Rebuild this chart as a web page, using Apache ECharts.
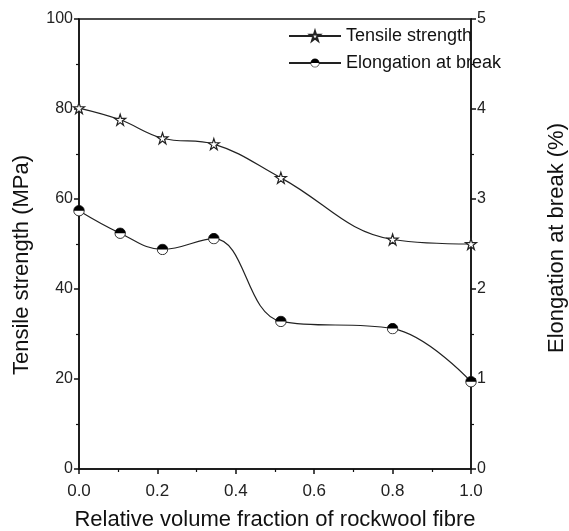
<!DOCTYPE html>
<html><head><meta charset="utf-8">
<script src="https://cdn.jsdelivr.net/npm/echarts@6/dist/echarts.min.js"></script>
<style>html,body{margin:0;padding:0;background:#fff}#c{width:569px;height:531px}</style>
</head><body><div id="c"></div>
<script>
const xValues = [0.0, 0.105, 0.213, 0.344, 0.515, 0.80, 1.0];
const tensileStrength = [80.2, 77.6, 73.5, 72.2, 64.7, 51.0, 50.0];
const elongationAtBreak = [2.87, 2.62, 2.44, 2.56, 1.64, 1.56, 0.97];
const seriesNames = ['Tensile strength', 'Elongation at break'];

const starPath = 'path://M50,0 L61.8,35.4 L100,35.4 L69.1,57.3 L80.9,93.3 L50,70.8 L19.1,93.3 L30.9,57.3 L0,35.4 L38.2,35.4 Z';
const halfCircle = 'image://data:image/svg+xml;charset=utf-8,' + encodeURIComponent(
  "<svg xmlns='http://www.w3.org/2000/svg' width='24' height='24'><circle cx='12' cy='12' r='10.5' fill='white' stroke='black' stroke-width='1.6'/><path d='M1.5 12 A10.5 10.5 0 0 1 22.5 12 Z' fill='black'/></svg>");

const font = 'Liberation Sans, Arial, sans-serif';
const axisLine = {show: true, lineStyle: {color: '#111', width: 1.5}};
const tick = {show: true, inside: false, length: 5, lineStyle: {color: '#111', width: 1.5}};
const minor = {show: true, splitNumber: 2, length: 3, lineStyle: {color: '#111', width: 1.2}};
const yLabels = {color: '#222', fontSize: 16, fontFamily: font, margin: 6};
const nameStyle = {fontSize: 22, fontFamily: font, color: '#111'};

const chart = echarts.init(document.getElementById('c'));
chart.setOption({
  backgroundColor: '#fff',
  animation: false,
  grid: {left: 79, right: 98, top: 19, bottom: 62, show: true, borderColor: '#111', borderWidth: 1.5,
         containLabel: false, outerBoundsMode: 'none'},
  legend: {
    orient: 'vertical', left: 288, top: 27, padding: 0, itemWidth: 52, itemHeight: 12, itemGap: 9,
    textStyle: {fontSize: 18, fontFamily: font, color: '#111'},
    data: seriesNames
  },
  xAxis: {
    type: 'value', min: 0, max: 1, interval: 0.2,
    axisLine: axisLine, axisTick: tick, minorTick: minor, splitLine: {show: false},
    axisLabel: {color: '#222', fontSize: 17, fontFamily: font, margin: 14, formatter: v => v.toFixed(1)},
    name: 'Relative volume fraction of rockwool fibre', nameLocation: 'middle', nameGap: 40,
    nameTextStyle: nameStyle
  },
  yAxis: [{
    type: 'value', min: 0, max: 100, interval: 20, position: 'left',
    axisLine: axisLine, axisTick: tick, minorTick: minor, splitLine: {show: false},
    axisLabel: yLabels,
    name: 'Tensile strength (MPa)', nameLocation: 'middle', nameGap: 46, nameRotate: 90,
    nameTextStyle: Object.assign({}, nameStyle, {padding: [0, 42, 0, 0]})
  }, {
    type: 'value', min: 0, max: 5, interval: 1, position: 'right',
    axisLine: axisLine, axisTick: tick, minorTick: minor, splitLine: {show: false},
    axisLabel: yLabels,
    name: 'Elongation at break (%)', nameLocation: 'middle', nameGap: 75, nameRotate: 90,
    nameTextStyle: Object.assign({}, nameStyle, {padding: [0, 0, 0, 12]})
  }],
  series: [{
    name: seriesNames[0], type: 'line', yAxisIndex: 0, smooth: 0.4,
    data: xValues.map((x, i) => [x, tensileStrength[i]]),
    symbol: starPath, symbolSize: 11, showAllSymbol: true,
    lineStyle: {color: '#222', width: 1.2},
    itemStyle: {color: '#fff', borderColor: '#222', borderWidth: 1.2}
  }, {
    name: seriesNames[1], type: 'line', yAxisIndex: 1, smooth: 0.4,
    data: xValues.map((x, i) => [x, elongationAtBreak[i]]),
    symbol: halfCircle, symbolSize: 12, showAllSymbol: true,
    lineStyle: {color: '#222', width: 1.2},
    itemStyle: {color: '#222'}
  }]
});
</script></body></html>
